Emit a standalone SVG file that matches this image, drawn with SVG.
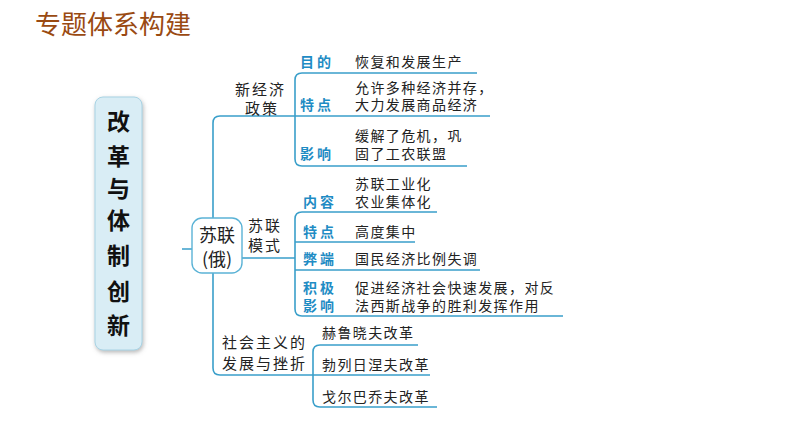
<svg xmlns="http://www.w3.org/2000/svg" width="794" height="447" viewBox="0 0 794 447">
<defs>
<filter id="sh" x="-20%" y="-10%" width="140%" height="120%">
<feDropShadow dx="1" dy="2" stdDeviation="2" flood-color="#888" flood-opacity="0.6"/>
</filter>
<style>
.ln{fill:none;stroke:#3a9fca;stroke-width:1.6}
.t{font-family:"Noto Sans CJK SC","Noto Sans CJK JP",sans-serif;font-size:14px;fill:#222;letter-spacing:1.4px}
.s{font-family:"Noto Sans CJK SC",sans-serif;font-size:15px;fill:#222;letter-spacing:2px}
.lb{font-family:"Noto Sans CJK SC",sans-serif;font-size:14px;font-weight:bold;fill:#1f8cc4;letter-spacing:3px}
.big{font-family:"Noto Sans CJK SC",sans-serif;font-size:23px;font-weight:bold;fill:#111;text-anchor:middle}
</style>
</defs>
<rect width="794" height="447" fill="#fff"/>
<text x="35" y="34" font-family="Noto Sans CJK SC, sans-serif" font-size="26" fill="#9a4a12">专题体系构建</text>

<g id="connectors">
<path class="ln" d="M490 116 H220 Q213 116 213 123 V368 Q213 375 220 375 H430"/>
<path class="ln" d="M477 73 H302 Q295 73 295 80 V159 Q295 166 302 166 H467"/>
<path class="ln" d="M437 212 H302 Q295 212 295 219 V309 Q295 316 302 316 H563"/>
<path class="ln" d="M295 242 H415 M295 270 H480"/>
<path class="ln" d="M242 258 H295 M182 249 H192"/>
<path class="ln" d="M418 345 H320 Q313 345 313 352 V400 Q313 407 320 407 H437"/>
</g>

<g id="main">
<rect x="95" y="97" width="47" height="253" rx="8" fill="#d9edf5" stroke="#a8d3e4" stroke-width="1" filter="url(#sh)"/>
<text class="big" x="118.5" y="130">改</text>
<text class="big" x="118.5" y="165">革</text>
<text class="big" x="118.5" y="197">与</text>
<text class="big" x="118.5" y="229">体</text>
<text class="big" x="118.5" y="264">制</text>
<text class="big" x="118.5" y="300">创</text>
<text class="big" x="118.5" y="334">新</text>
</g>

<g id="sulian">
<rect x="192" y="218" width="50" height="55" rx="10" fill="#fff" stroke="#5bb3d6" stroke-width="1.4"/>
<text font-family="Noto Sans CJK SC, sans-serif" font-size="18" fill="#222" text-anchor="middle"><tspan x="217" y="242">苏联</tspan><tspan x="217" y="266">(俄)</tspan></text>
</g>

<g id="nep">
<text class="s"><tspan x="235" y="95">新经济</tspan><tspan x="245" y="114">政策</tspan></text>
<text class="lb" x="300" y="67">目的</text>
<text class="t" x="355" y="67">恢复和发展生产</text>
<text class="lb" x="300" y="110">特点</text>
<text class="t"><tspan x="355" y="93">允许多种经济并存，</tspan><tspan x="355" y="110">大力发展商品经济</tspan></text>
<text class="lb" x="300" y="159">影响</text>
<text class="t"><tspan x="355" y="141">缓解了危机，巩</tspan><tspan x="355" y="159">固了工农联盟</tspan></text>
</g>

<g id="model">
<text class="s"><tspan x="248" y="231">苏联</tspan><tspan x="248" y="251">模式</tspan></text>
<text class="lb" x="303" y="207">内容</text>
<text class="t"><tspan x="355" y="189">苏联工业化</tspan><tspan x="355" y="207">农业集体化</tspan></text>
<text class="lb" x="303" y="237">特点</text>
<text class="t" x="355" y="237">高度集中</text>
<text class="lb" x="303" y="264">弊端</text>
<text class="t" x="355" y="264">国民经济比例失调</text>
<text class="lb"><tspan x="303" y="293">积极</tspan><tspan x="303" y="311">影响</tspan></text>
<text class="t"><tspan x="355" y="293">促进经济社会快速发展，对反</tspan><tspan x="355" y="311">法西斯战争的胜利发挥作用</tspan></text>
</g>

<g id="socialism">
<text class="s"><tspan x="222" y="348">社会主义的</tspan><tspan x="222" y="369">发展与挫折</tspan></text>
<text class="t" x="322" y="338">赫鲁晓夫改革</text>
<text class="t" x="322" y="370">勃列日涅夫改革</text>
<text class="t" x="322" y="402">戈尔巴乔夫改革</text>
</g>
</svg>
